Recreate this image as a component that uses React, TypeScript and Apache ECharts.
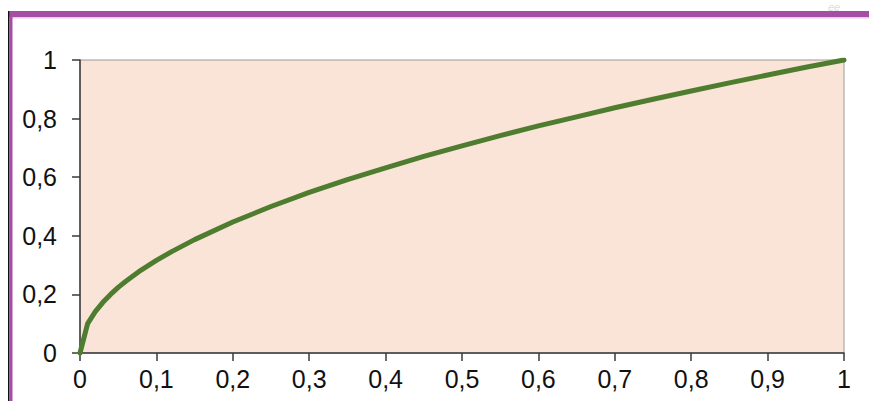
import React, { useEffect, useRef } from "react";
import * as echarts from "echarts";

const xValues = [0, 0.01, 0.02, 0.03, 0.04, 0.05, 0.06, 0.08, 0.1, 0.12, 0.15, 0.2, 0.25, 0.3, 0.35, 0.4, 0.45, 0.5, 0.55, 0.6, 0.65, 0.7, 0.75, 0.8, 0.85, 0.9, 0.95, 1];
const yValues = [0, 0.1, 0.141, 0.173, 0.2, 0.224, 0.245, 0.283, 0.316, 0.346, 0.387, 0.447, 0.5, 0.548, 0.592, 0.632, 0.671, 0.707, 0.742, 0.775, 0.806, 0.837, 0.866, 0.894, 0.922, 0.949, 0.975, 1];
const xTicks = [0, 0.1, 0.2, 0.3, 0.4, 0.5, 0.6, 0.7, 0.8, 0.9, 1];
const yTicks = [0, 0.2, 0.4, 0.6, 0.8, 1];

const fmt = (v: number) => String(Math.round(v * 10) / 10).replace(".", ",");

export default function App() {
  const ref = useRef<HTMLDivElement>(null);
  useEffect(() => {
    const chart = echarts.init(ref.current!, null, { renderer: "svg" });
    chart.setOption({
      animation: false,
      backgroundColor: "#ffffff",
      grid: { left: 80, top: 60, right: 25, bottom: 48, show: true, backgroundColor: "#fae4d7", borderColor: "#9a9a9a", borderWidth: 1 },
      xAxis: {
        type: "value",
        min: 0,
        max: 1,
        interval: 0.1,
        axisLine: { show: true, lineStyle: { color: "#3a3a3a", width: 1.5 } },
        axisTick: { show: true, length: 8, lineStyle: { color: "#3a3a3a", width: 1.5 } },
        splitLine: { show: false },
        axisLabel: {
          margin: 13,
          fontSize: 25,
          fontFamily: "Liberation Sans, Arial, sans-serif",
          color: "#111",
          formatter: (v: number) => (xTicks.some((t) => Math.abs(t - v) < 1e-9) ? fmt(v) : ""),
        },
      },
      yAxis: {
        type: "value",
        min: 0,
        max: 1,
        interval: 0.2,
        axisLine: { show: true, lineStyle: { color: "#3a3a3a", width: 1.5 } },
        axisTick: { show: true, length: 8, lineStyle: { color: "#3a3a3a", width: 1.5 } },
        splitLine: { show: false },
        axisLabel: {
          margin: 23,
          fontSize: 25,
          fontFamily: "Liberation Sans, Arial, sans-serif",
          color: "#111",
          formatter: (v: number) => (yTicks.some((t) => Math.abs(t - v) < 1e-9) ? fmt(v) : ""),
        },
      },
      series: [
        {
          type: "line",
          data: xValues.map((x, i) => [x, yValues[i]]),
          smooth: false,
          showSymbol: false,
          lineStyle: { color: "#4e7d30", width: 5, join: "round", cap: "round" },
        },
      ],
      graphic: [
        {
          type: "text",
          x: 828,
          y: 1,
          style: { text: "ee", fill: "#dddddd", font: "italic 11px Liberation Sans, sans-serif", textVerticalAlign: "top" },
        },
        { type: "rect", shape: { x: 8, y: 11, width: 861, height: 6 }, style: { fill: "#a54ea6" } },
        { type: "rect", shape: { x: 12, y: 17, width: 857, height: 1.5 }, style: { fill: "#e4cbe6" } },
        { type: "rect", shape: { x: 8, y: 11, width: 1.5, height: 390 }, style: { fill: "#111" } },
        { type: "rect", shape: { x: 9.5, y: 11, width: 3, height: 390 }, style: { fill: "#a54ea6" } },
      ],
    });
    return () => chart.dispose();
  }, []);
  return <div ref={ref} style={{ position: "fixed", left: 0, top: 0, width: 869, height: 401 }} />;
}
